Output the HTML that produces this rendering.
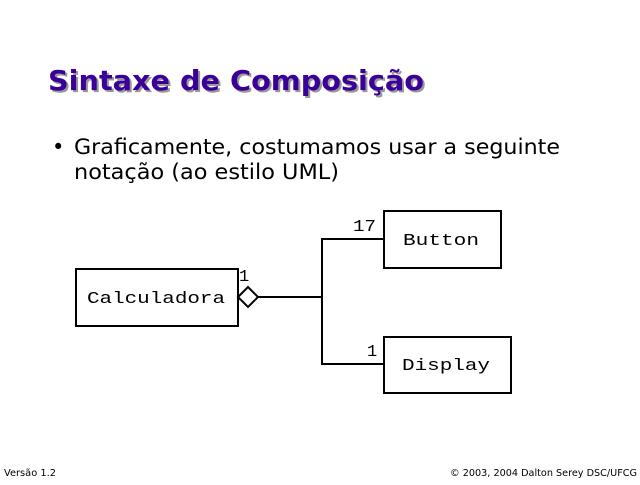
<!DOCTYPE html>
<html><head><style>
body{margin:0;width:640px;height:480px;background:#fff;overflow:hidden}
</style></head><body>
<svg width="640" height="480" xmlns="http://www.w3.org/2000/svg">
<text x="50" y="92" font-family="DejaVu Sans, sans-serif" font-weight="bold" font-size="28" fill="#999" textLength="376" lengthAdjust="spacingAndGlyphs">Sintaxe de Composição</text>
<text x="48" y="90" font-family="DejaVu Sans, sans-serif" font-weight="bold" font-size="28" fill="#3a0099" textLength="376" lengthAdjust="spacingAndGlyphs">Sintaxe de Composição</text>
<text x="52" y="154" font-family="DejaVu Sans, sans-serif" font-size="21" fill="#000">•</text>
<text x="74" y="154" font-family="DejaVu Sans, sans-serif" font-size="21" fill="#000" textLength="486" lengthAdjust="spacingAndGlyphs">Graficamente, costumamos usar a seguinte</text>
<text x="74" y="179" font-family="DejaVu Sans, sans-serif" font-size="21" fill="#000" textLength="265" lengthAdjust="spacingAndGlyphs">notação (ao estilo UML)</text>
<g stroke="#000" stroke-width="2" fill="none">
<rect x="76" y="269" width="162" height="57"/>
<rect x="384" y="211" width="117" height="57"/>
<rect x="384" y="337" width="127" height="56"/>
<polygon points="238,297 248,287 258,297 248,307" fill="#fff"/>
<polyline points="258,297 322,297"/>
<polyline points="384,239 322,239 322,364 384,364"/>
</g>
<g font-family="Liberation Mono, monospace" font-size="17" fill="#000">
<text x="87" y="303" textLength="138" lengthAdjust="spacingAndGlyphs">Calculadora</text>
<text x="403" y="245" textLength="76" lengthAdjust="spacingAndGlyphs">Button</text>
<text x="402" y="370" textLength="88" lengthAdjust="spacingAndGlyphs">Display</text>
<text x="353" y="231" textLength="23" lengthAdjust="spacingAndGlyphs">17</text>
<text x="239" y="281">1</text>
<text x="367" y="356">1</text>
</g>
<text x="4" y="476" font-family="DejaVu Sans, sans-serif" font-size="10" fill="#000" textLength="52" lengthAdjust="spacingAndGlyphs">Versão 1.2</text>
<text x="450" y="476" font-family="DejaVu Sans, sans-serif" font-size="10" fill="#000" textLength="187" lengthAdjust="spacingAndGlyphs">© 2003, 2004 Dalton Serey DSC/UFCG</text>
</svg>
</body></html>
